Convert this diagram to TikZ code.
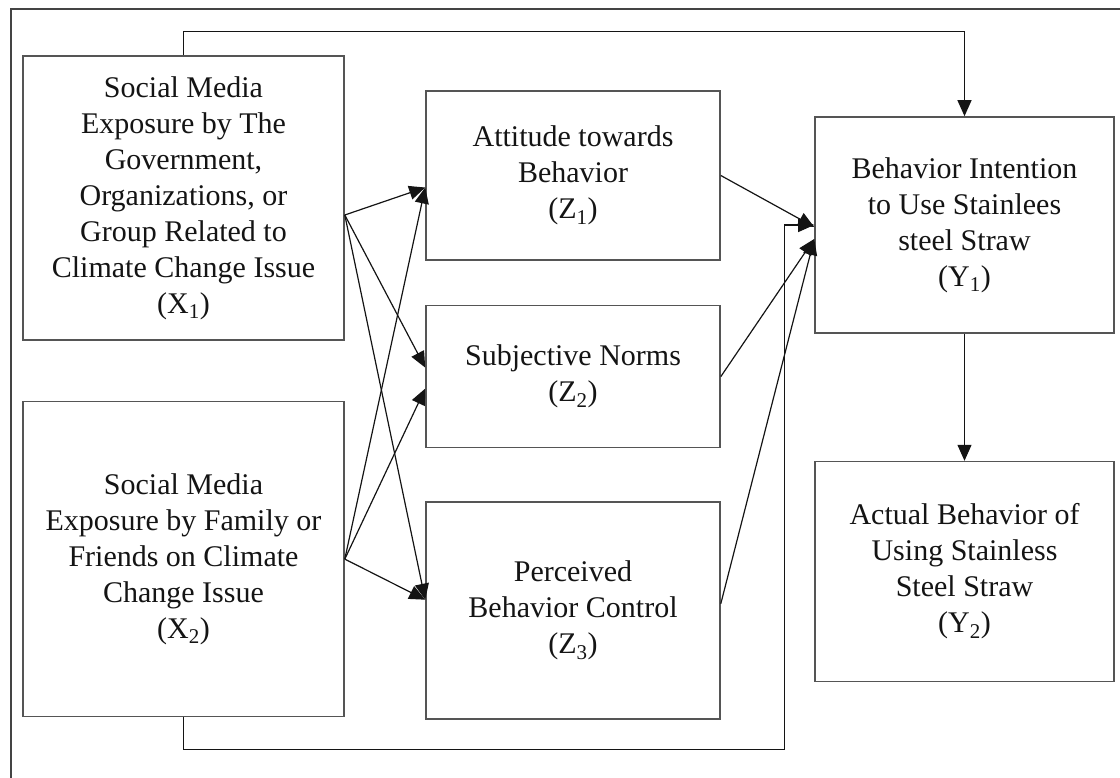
\documentclass[tikz,border=0pt]{standalone}
\usepackage{fontspec}
\setmainfont{Liberation Serif}
\usetikzlibrary{arrows.meta, positioning}
\definecolor{boxgray}{HTML}{555555}
\definecolor{inkblack}{HTML}{141414}

\begin{document}
\begin{tikzpicture}[
    x=1pt, y=-1pt,
    >={Triangle[length=16pt, width=14pt]},
    box/.style={
        draw=boxgray, line width=1.6pt, minimum width=#1,
        inner sep=0pt, align=center, text=inkblack,
        font=\fontsize{30}{36}\selectfont
    },
    arrow/.style={->, line width=1.2pt, color=inkblack},
    frame/.style={line width=2pt, color=boxgray!80!black}
]
\useasboundingbox (0,0) rectangle (1120,778);

% === Outer frame (cropped at right and bottom) ===
\draw[frame] (11,778) -- (11,9) -- (1120,9);

% === Exogenous variables (left) ===
\node[box=321pt, minimum height=284pt] (x1) at (183.5,198) {
    Social Media\\
    Exposure by The\\
    Government,\\
    Organizations, or\\
    Group Related to\\
    Climate Change Issue\\
    (X\textsubscript{1})
};
\node[box=321pt, minimum height=315pt, below=60pt of x1] (x2) {
    Social Media\\
    Exposure by Family or\\
    Friends on Climate\\
    Change Issue\\
    (X\textsubscript{2})
};

% === Mediators (center) ===
\node[box=294pt, minimum height=169pt] (z1) at (573,175.5) {
    Attitude towards\\
    Behavior\\
    (Z\textsubscript{1})
};
\node[box=294pt, minimum height=142pt, below=44pt of z1] (z2) {
    Subjective Norms\\
    (Z\textsubscript{2})
};
\node[box=294pt, minimum height=217pt, below=53pt of z2] (z3) {
    Perceived\\
    Behavior Control\\
    (Z\textsubscript{3})
};

% === Outcomes (right) ===
\node[box=299pt, minimum height=216pt] (y1) at (964.5,225) {
    Behavior Intention\\
    to Use Stainlees\\
    steel Straw\\
    (Y\textsubscript{1})
};
\node[box=299pt, minimum height=220pt, below=127pt of y1] (y2) {
    Actual Behavior of\\
    Using Stainless\\
    Steel Straw\\
    (Y\textsubscript{2})
};

% === Arrows ===

% X1 -> Z1, Z2, Z3
\draw[arrow] ([yshift=-17pt]x1.east) -- ([yshift=-12pt]z1.west);
\draw[arrow] ([yshift=-17pt]x1.east) -- ([yshift=9pt]z2.west);
\draw[arrow] ([yshift=-17pt]x1.east) -- ([yshift=11pt]z3.west);

% X2 -> Z1, Z2, Z3
\draw[arrow] (x2.east) -- ([yshift=-12pt]z1.west);
\draw[arrow] (x2.east) -- ([yshift=-12pt]z2.west);
\draw[arrow] (x2.east) -- ([yshift=11pt]z3.west);

% Z1, Z2, Z3 -> Y1
\draw[arrow] (z1.east) -- ([yshift=-2pt]y1.west);
\draw[arrow] (z2.east) -- ([yshift=-14pt]y1.west);
\draw[arrow] ([yshift=7pt]z3.east) -- ([yshift=-14pt]y1.west);

% X1 -> Y1 (direct, over the top)
\draw[arrow] (x1.north) -- ++(0,-24) -| (y1.north);

% X2 -> Y1 (direct, under the bottom)
\coordinate[left=30pt of y1.west] (bendin);
\draw[arrow] (x2.south) -- ++(0,32) -| (bendin) -- (y1.west);

% Y1 -> Y2
\draw[arrow] (y1) -- (y2);

\end{tikzpicture}
\end{document}
